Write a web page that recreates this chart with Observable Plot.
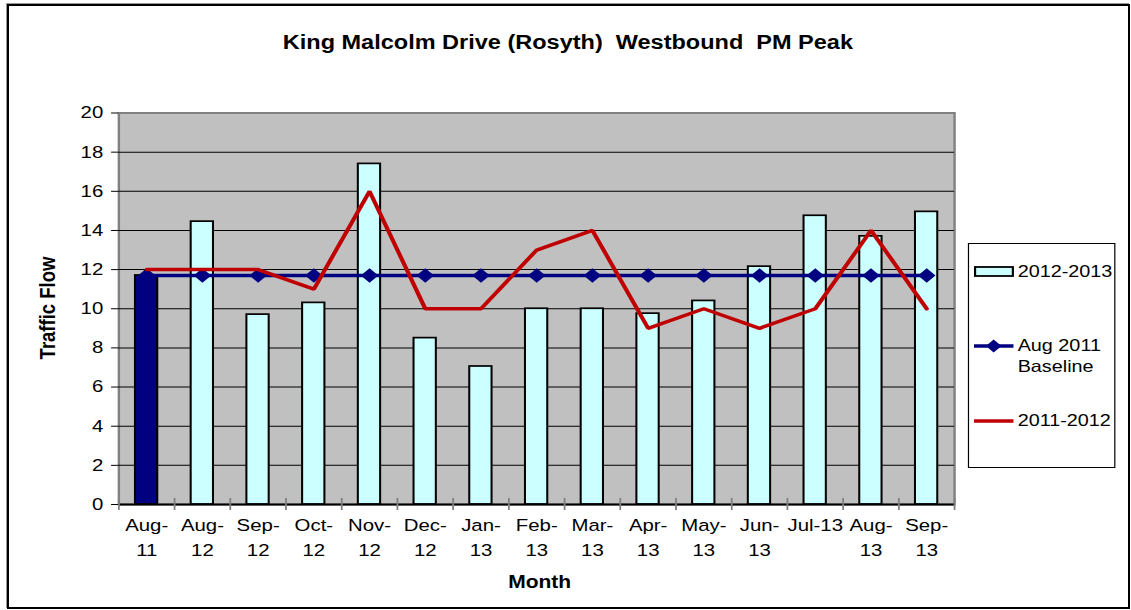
<!DOCTYPE html>
<html>
<head>
<meta charset="utf-8">
<script src="https://cdn.jsdelivr.net/npm/d3@7"></script>
<script src="https://cdn.jsdelivr.net/npm/@observablehq/plot@0.6"></script>
<style>
  html, body { margin: 0; padding: 0; background: #fff; width: 1131px; height: 610px; overflow: hidden;
    font-family: "Liberation Sans", Arial, sans-serif; color: #000; }
  #border { position: absolute; left: 7px; top: 4px; width: 1119px; height: 601px; border: 2px solid #000;
    box-shadow: -1px -1px 0 #9a9a9a; }
  #stage { position: absolute; left: 0; top: 0; width: 943px; height: 610px; transform-origin: 0 0;
    transform: scaleX(1.19936); }
  #chart { position: absolute; left: 0; top: 0; }
  #title { position: absolute; left: 0; width: 947px; top: 32.5px; text-align: center; font-weight: bold;
    font-size: 19.6px; line-height: 1; white-space: pre; }
  #xlabel { position: absolute; left: 350px; width: 200px; top: 574px; text-align: center; font-weight: bold;
    font-size: 17.5px; line-height: 1; }
  #ylabel { position: absolute; left: 40px; top: 308px; font-weight: bold; font-size: 18.5px; line-height: 1;
    white-space: nowrap; transform: translate(-50%, -50%) rotate(-90deg); }
  #legend { position: absolute; left: 806.5px; top: 243px; width: 123.5px; height: 225px; border: 1px solid #000;
    box-sizing: border-box; background: #fff; }
  .item { position: absolute; left: 4px; font-size: 16.5px; line-height: 1.3; }
  .item svg { position: absolute; left: 0; }
  .item span { position: absolute; left: 37px; white-space: nowrap; }
</style>
</head>
<body>
<div id="border"></div>
<div id="stage">
  <div id="chart"></div>
  <div id="title"></div>
  <div id="ylabel"></div>
  <div id="xlabel"></div>
  <div id="legend"></div>
</div>
<script>
// ---------- data ----------
const months = ["Aug-11","Aug-12","Sep-12","Oct-12","Nov-12","Dec-12","Jan-13","Feb-13","Mar-13","Apr-13","May-13","Jun-13","Jul-13","Aug-13","Sep-13"];
const tickLabels = ["Aug-\n11","Aug-\n12","Sep-\n12","Oct-\n12","Nov-\n12","Dec-\n12","Jan-\n13","Feb-\n13","Mar-\n13","Apr-\n13","May-\n13","Jun-\n13","Jul-13","Aug-\n13","Sep-\n13"];
const flow2012_2013 = [11.7, 14.45, 9.7, 10.3, 17.4, 8.5, 7.05, 10.0, 10.0, 9.75, 10.4, 12.15, 14.75, 13.7, 14.95];
const baselineAug2011 = [11.7, 11.7, 11.7, 11.7, 11.7, 11.7, 11.7, 11.7, 11.7, 11.7, 11.7, 11.7, 11.7, 11.7, 11.7];
const flow2011_2012 = [12, 12, 12, 11, 16, 10, 10, 13, 14, 9, 10, 9, 10, 14, 10];
const yTicks = [0, 2, 4, 6, 8, 10, 12, 14, 16, 18, 20];
const seriesNames = ["2012-2013", "Aug 2011\nBaseline", "2011-2012"];
const titleText = "King Malcolm Drive (Rosyth)  Westbound  PM Peak";
const xTitle = "Month";
const yTitle = "Traffic Flow";

// ---------- styles ----------
const CYAN = "#CCFFFF", NAVY = "#000080", RED = "#C00000";
const W = 943, H = 610, ML = 98.6, MR = 147.6, MT = 112.5, MB = 106;
const step = (W - ML - MR) / months.length;

const rows = months.map((m, i) => ({
  month: m, label: tickLabels[i], bar: flow2012_2013[i], base: baselineAug2011[i], prev: flow2011_2012[i]
}));

const plot = Plot.plot({
  width: W, height: H,
  marginLeft: ML, marginRight: MR, marginTop: MT, marginBottom: MB,
  style: { fontFamily: '"Liberation Sans", Arial, sans-serif', fontSize: "16.5px", color: "#000", background: "transparent", overflow: "visible" },
  x: { type: "band", domain: months, paddingInner: 0.6, paddingOuter: 0.3, round: false, label: null },
  y: { domain: [0, 20], label: null },
  marks: [
    Plot.frame({ fill: "#C0C0C0", stroke: "#808080", strokeWidth: 2 }),
    Plot.gridY(yTicks.slice(0, -1), { stroke: "#000", strokeOpacity: 1, strokeWidth: 1 }),
    Plot.barY(rows, { x: "month", y: "bar", fill: d => d.month === months[0] ? NAVY : CYAN, stroke: "#000", strokeWidth: 1.7 }),
    Plot.ruleY([0], { stroke: "#000", strokeWidth: 2 }),
    Plot.axisY(yTicks, { tickSize: 6, tickPadding: 7, stroke: "#000", fontSize: 17, label: null }),
    Plot.axisX(months, { tickSize: 12, dy: -6, dx: -step / 2, tickFormat: () => "", stroke: "#808080", strokeWidth: 1.5, label: null }),
    Plot.axisX(months.slice(-1), { tickSize: 12, dy: -6, dx: step / 2, tickFormat: () => "", stroke: "#808080", strokeWidth: 1.5, label: null }),
    Plot.axisX(months, { tickSize: 0, tickPadding: 8, lineHeight: 1.5, fontSize: 17, tickFormat: d => tickLabels[months.indexOf(d)], label: null }),
    Plot.line(rows, { x: "month", y: "base", stroke: NAVY, strokeWidth: 3.5 }),
    Plot.dot(rows, { x: "month", y: "base", symbol: "diamond2", r: 6.6, fill: NAVY, stroke: "none" }),
    Plot.line(rows, { x: "month", y: "prev", stroke: RED, strokeWidth: 3.5, strokeLinejoin: "miter" })
  ]
});
document.getElementById("chart").appendChild(plot);
document.getElementById("title").textContent = titleText;
document.getElementById("xlabel").textContent = xTitle;
document.getElementById("ylabel").textContent = yTitle;

// ---------- legend ----------
const legend = document.getElementById("legend");
const items = [
  { name: seriesNames[0], top: 17, kind: "bar" },
  { name: seriesNames[1], top: 91, kind: "marker" },
  { name: seriesNames[2], top: 166, kind: "line" }
];
for (const it of items) {
  const div = document.createElement("div");
  div.className = "item";
  div.style.top = it.top + "px";
  let sw;
  if (it.kind === "bar") {
    sw = `<svg width="34" height="22" style="top:0"><rect x="1" y="6" width="31.5" height="9" fill="${CYAN}" stroke="#000" stroke-width="1.8"/></svg>`;
  } else if (it.kind === "marker") {
    sw = `<svg width="34" height="22" style="top:0"><line x1="0" x2="33" y1="11" y2="11" stroke="${NAVY}" stroke-width="3.5"/><path d="M16.5,4.5L23,11L16.5,17.5L10,11Z" fill="${NAVY}"/></svg>`;
  } else {
    sw = `<svg width="34" height="22" style="top:0"><line x1="0" x2="33" y1="11" y2="11" stroke="${RED}" stroke-width="3.5"/></svg>`;
  }
  const lines = it.name.split("\n").join("<br>");
  div.innerHTML = sw + `<span style="top:0">${lines}</span>`;
  legend.appendChild(div);
}
</script>
</body>
</html>
